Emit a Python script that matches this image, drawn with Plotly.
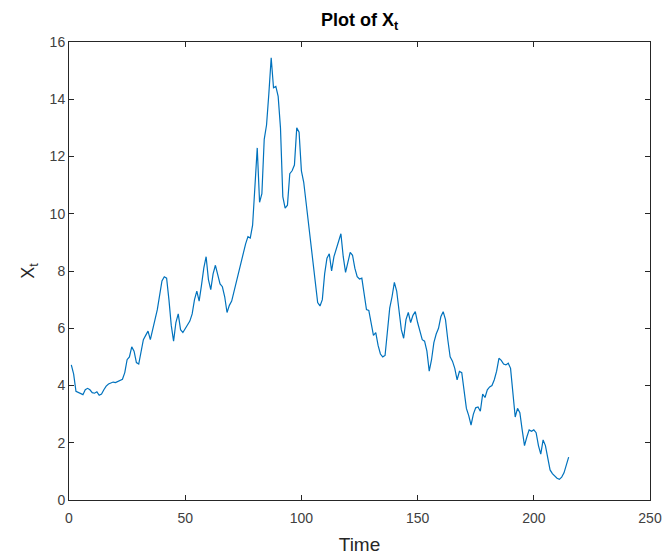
import plotly.graph_objects as go

time = list(range(1, 216))
xt = [
    4.72, 4.40, 3.80, 3.75, 3.72, 3.68, 3.85, 3.90, 3.85, 3.75,   # 1-10
    3.73, 3.78, 3.66, 3.70, 3.85, 3.98, 4.05, 4.10, 4.12, 4.10,   # 11-20
    4.14, 4.17, 4.22, 4.45, 4.90, 5.00, 5.35, 5.20, 4.80, 4.75,   # 21-30
    5.20, 5.60, 5.75, 5.90, 5.60, 6.00, 6.30, 6.65, 7.20, 7.65,   # 31-40
    7.80, 7.75, 7.00, 6.10, 5.55, 6.20, 6.50, 5.95, 5.85, 6.00,   # 41-50
    6.10, 6.25, 6.50, 7.00, 7.30, 6.95, 7.50, 8.10, 8.50, 7.70,   # 51-60
    7.35, 7.90, 8.20, 7.85, 7.55, 7.45, 7.10, 6.55, 6.80, 6.95,   # 61-70
    7.30, 7.65, 7.90, 8.25, 8.60, 8.95, 9.20, 9.15, 9.60, 11.00,  # 71-80
    12.30, 10.40, 10.70, 12.60, 13.10, 14.20, 15.45, 14.40, 14.45, 14.10,  # 81-90
    13.00, 10.60, 10.20, 10.30, 11.40, 11.50, 11.70, 13.00, 12.85, 11.50,  # 91-100
    11.10, 10.40, 9.70, 9.00, 8.30, 7.40, 6.90, 6.78, 7.00, 7.90,  # 101-110
    8.45, 8.60, 8.00, 8.50, 8.75, 9.00, 9.30, 8.50, 7.95, 8.30,   # 111-120
    8.65, 8.55, 8.10, 7.80, 7.72, 7.75, 7.25, 6.65, 6.62, 6.20,   # 121-130
    5.75, 5.85, 5.40, 5.10, 5.00, 5.05, 5.80, 6.70, 7.10, 7.60,   # 131-140
    7.30, 6.50, 5.95, 5.65, 6.30, 6.55, 6.20, 6.45, 6.58, 6.20,   # 141-150
    5.90, 5.60, 5.55, 5.20, 4.50, 4.90, 5.50, 5.80, 6.00, 6.40,   # 151-160
    6.58, 6.30, 5.60, 5.00, 4.85, 4.60, 4.20, 4.49, 4.45, 3.85,   # 161-170
    3.20, 2.95, 2.62, 3.00, 3.22, 3.25, 3.10, 3.70, 3.58, 3.85,   # 171-180
    3.95, 4.00, 4.20, 4.50, 4.95, 4.88, 4.75, 4.72, 4.78, 4.60,   # 181-190
    3.85, 2.90, 3.20, 3.05, 2.45, 1.90, 2.20, 2.45, 2.40, 2.45,   # 191-200
    2.35, 1.90, 1.60, 2.10, 1.90, 1.40, 1.05, 0.92, 0.82, 0.76,   # 201-210
    0.72, 0.80, 0.95, 1.20, 1.50,                                  # 211-215
]

x_ticks = [0, 50, 100, 150, 200, 250]
y_ticks = [0, 2, 4, 6, 8, 10, 12, 14, 16]

FONT = "Liberation Sans, Arial, sans-serif"

fig = go.Figure()
fig.add_trace(go.Scatter(x=time, y=xt, mode="lines",
                         line=dict(color="#0072BD", width=1.2),
                         showlegend=False, hoverinfo="skip"))

axis_common = dict(
    showgrid=False, zeroline=False, showline=True, linecolor="#262626",
    linewidth=1, mirror="allticks", ticks="inside", ticklen=5,
    tickcolor="#262626", automargin=False,
    tickfont=dict(family=FONT, size=14, color="#404040"),
)

fig.update_layout(
    width=665, height=555,
    margin=dict(l=69, r=15, t=42, b=55, autoexpand=False),
    paper_bgcolor="white", plot_bgcolor="white",
    title=dict(text="<b>Plot of X<sub>t</sub></b>", x=0.5, xref="paper",
               y=1, yref="paper", yanchor="bottom", pad=dict(b=16),
               font=dict(family=FONT, size=18, color="#000000")),
    xaxis=dict(range=[0, 250], tickvals=x_ticks, ticktext=[str(v) for v in x_ticks],
               ticklabelstandoff=5,
               title=dict(text="Time", standoff=14,
                          font=dict(family=FONT, size=19, color="#262626")),
               **axis_common),
    yaxis=dict(range=[0, 16], tickvals=y_ticks, ticktext=[str(v) for v in y_ticks],
               title=dict(text="X<sub>t</sub>", standoff=10,
                          font=dict(family=FONT, size=18, color="#262626")),
               **axis_common),
)

fig.write_html("out.html")
